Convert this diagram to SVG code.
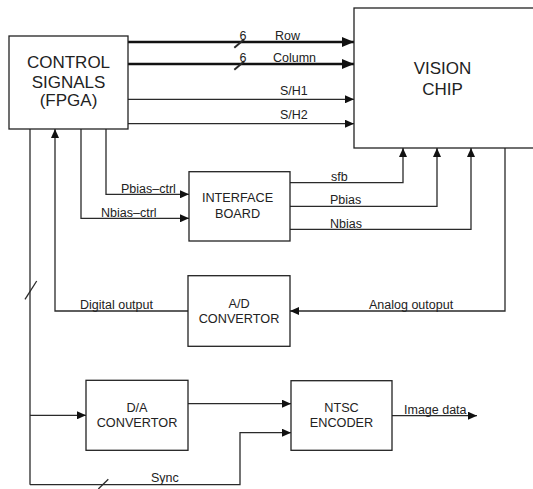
<svg xmlns="http://www.w3.org/2000/svg" width="533" height="489" viewBox="0 0 533 489">
<style>
.box{fill:#fff;stroke:#222;stroke-width:1.3}
.big{font-family:"Liberation Sans",Arial,sans-serif;font-size:17px;fill:#222;text-anchor:middle}
.bt{font-family:"Liberation Sans",Arial,sans-serif;font-size:12.7px;fill:#222;text-anchor:middle}
.lb{font-family:"Liberation Sans",Arial,sans-serif;font-size:12.5px;fill:#222}
.w{fill:none;stroke:#2a2a2a;stroke-width:1.3}
.t{fill:none;stroke:#111;stroke-width:2.6}
</style>
<defs>
<marker id="ah" markerUnits="userSpaceOnUse" markerWidth="10" markerHeight="8" refX="9" refY="4" orient="auto">
<path d="M0,0 L9,4 L0,8 Z" fill="#111"/>
</marker>
<marker id="ahb" markerUnits="userSpaceOnUse" markerWidth="13" markerHeight="10" refX="12" refY="5" orient="auto">
<path d="M0,0 L12,5 L0,10 Z" fill="#111"/>
</marker>
</defs>
<g id="connectors">
<line class="t" x1="128" y1="42" x2="354" y2="42" marker-end="url(#ahb)"/>
<line class="t" x1="128" y1="64" x2="354" y2="64" marker-end="url(#ahb)"/>
<line class="w" x1="234.3" y1="47.7" x2="244.3" y2="39.3" style="stroke-width:2"/>
<line class="w" x1="234.3" y1="69.7" x2="244.3" y2="61.3" style="stroke-width:2"/>
<text class="lb" x="243" y="40" text-anchor="middle">6</text>
<text class="lb" x="243" y="62" text-anchor="middle">6</text>
<text class="lb" x="275" y="39.5">Row</text>
<text class="lb" x="273" y="61.5">Column</text>
<line class="w" x1="128" y1="99.3" x2="354" y2="99.3" marker-end="url(#ah)"/>
<line class="w" x1="128" y1="123.7" x2="354" y2="123.7" marker-end="url(#ah)"/>
<text class="lb" x="280" y="94.5">S/H1</text>
<text class="lb" x="280" y="118.5">S/H2</text>
<polyline class="w" points="106,129 106,194.3 189,194.3" marker-end="url(#ah)"/>
<polyline class="w" points="81,129 81,218.3 189,218.3" marker-end="url(#ah)"/>
<text class="lb" x="121" y="193">Pbias–ctrl</text>
<text class="lb" x="101" y="216.5">Nbias–ctrl</text>
<polyline class="w" points="290,182.7 403,182.7 403,148" marker-end="url(#ah)"/>
<polyline class="w" points="290,206.3 437,206.3 437,148" marker-end="url(#ah)"/>
<polyline class="w" points="290,229.3 471,229.3 471,148" marker-end="url(#ah)"/>
<text class="lb" x="331" y="181">sfb</text>
<text class="lb" x="330" y="204">Pbias</text>
<text class="lb" x="330" y="228">Nbias</text>
<polyline class="w" points="505,148 505,311 290,311" marker-end="url(#ah)"/>
<text class="lb" x="369" y="308.5">Analog outoput</text>
<polyline class="w" points="189,311 55,311 55,129" marker-end="url(#ah)"/>
<text class="lb" x="80" y="308.5">Digital output</text>
<line class="w" x1="30" y1="129" x2="30" y2="484.7"/>
<line class="w" x1="25" y1="299.3" x2="36.7" y2="281"/>
<line class="w" x1="30" y1="415.3" x2="86" y2="415.3" marker-end="url(#ah)"/>
<line class="w" x1="186" y1="403.7" x2="291" y2="403.7" marker-end="url(#ah)"/>
<polyline class="w" points="30,484.7 240,484.7 240,432.7 291,432.7" marker-end="url(#ah)"/>
<line class="w" x1="98.3" y1="489" x2="108.3" y2="479.3"/>
<text class="lb" x="151" y="482">Sync</text>
<line class="w" x1="392" y1="415.7" x2="477" y2="415.7" marker-end="url(#ah)"/>
<text class="lb" x="404" y="413.5">Image data</text>
</g>
<g id="control">
<rect class="box" x="9" y="36" width="119" height="93"/>
<text class="big" x="68.5" y="67.7">CONTROL</text>
<text class="big" x="68.5" y="87.7">SIGNALS</text>
<text class="big" x="68.5" y="106">(FPGA)</text>
</g>
<g id="vision">
<rect class="box" x="354" y="8" width="190" height="140"/>
<text class="big" x="442.5" y="73.7">VISION</text>
<text class="big" x="442.5" y="95.3">CHIP</text>
</g>
<g id="interface">
<rect class="box" x="189" y="171.7" width="101" height="69.3"/>
<text class="bt" x="237.5" y="202">INTERFACE</text>
<text class="bt" x="237.5" y="217.7">BOARD</text>
</g>
<g id="adc">
<rect class="box" x="188" y="275.7" width="102" height="70.6"/>
<text class="bt" x="239" y="307.5">A/D</text>
<text class="bt" x="239" y="323">CONVERTOR</text>
</g>
<g id="dac">
<rect class="box" x="86" y="380.3" width="102" height="70"/>
<text class="bt" x="137" y="411.5">D/A</text>
<text class="bt" x="137" y="426.5">CONVERTOR</text>
</g>
<g id="ntsc">
<rect class="box" x="291" y="380.7" width="101" height="69.6"/>
<text class="bt" x="341.5" y="412">NTSC</text>
<text class="bt" x="341.5" y="426.5">ENCODER</text>
</g>
</svg>
